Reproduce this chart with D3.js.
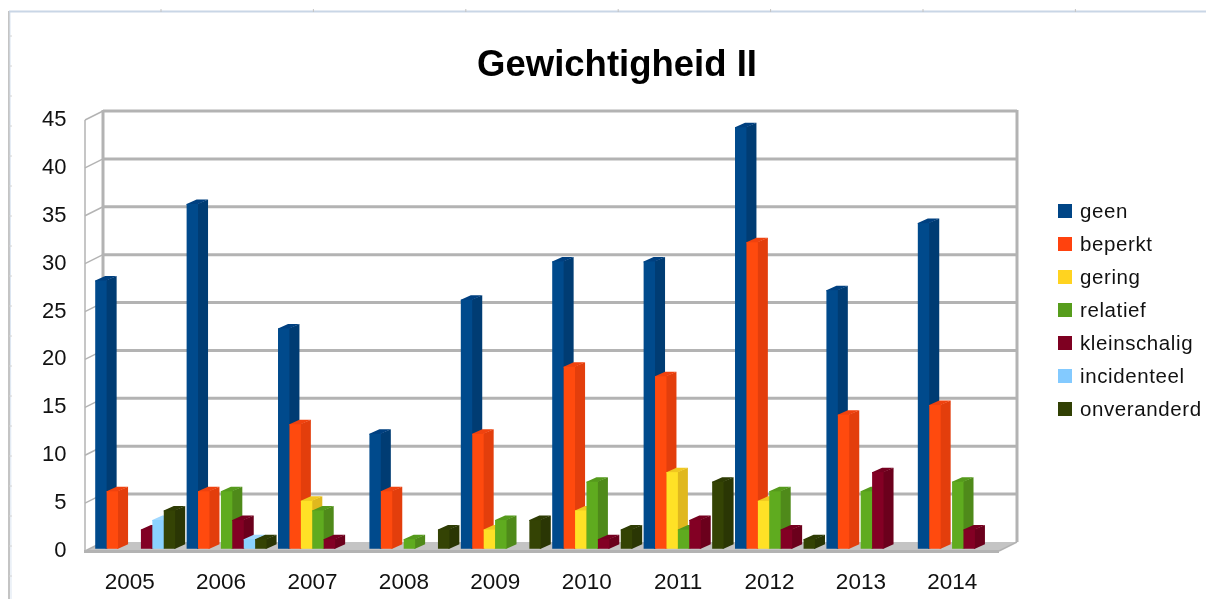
<!DOCTYPE html>
<html>
<head>
<meta charset="utf-8">
<script src="https://cdnjs.cloudflare.com/ajax/libs/d3/7.8.5/d3.min.js"></script>
<style>
html, body { margin: 0; padding: 0; background: #fff; overflow: hidden; }
svg { display: block; font-family: "Liberation Sans", Arial, sans-serif; filter: blur(0.5px); }
</style>
</head>
<body>
<div id="chart"></div>
<script>
// data
const years = ["2005", "2006", "2007", "2008", "2009", "2010", "2011", "2012", "2013", "2014"];
const seriesNames = ["geen", "beperkt", "gering", "relatief", "kleinschalig", "incidenteel", "onveranderd"];
const geen = [28, 36, 23, 12, 26, 30, 30, 44, 27, 34];
const beperkt = [6, 6, 13, 6, 12, 19, 18, 32, 14, 15];
const gering = [0, 0, 5, 0, 2, 4, 8, 5, 0, 0];
const relatief = [0, 6, 4, 1, 3, 7, 2, 6, 6, 7];
const kleinschalig = [2, 3, 1, 0, 0, 1, 3, 2, 8, 2];
const incidenteel = [3, 1, 0, 0, 0, 0, 0, 0, 0, 0];
const onveranderd = [4, 1, 0, 2, 3, 2, 7, 1, 0, 0];
const seriesValues = [geen, beperkt, gering, relatief, kleinschalig, incidenteel, onveranderd];
const yTicks = [0, 5, 10, 15, 20, 25, 30, 35, 40, 45];

const frontColors = ["#004586", "#ff420e", "#ffd320", "#579d1c", "#7e0021", "#83caff", "#314004"];
const barFront = ["#004a8c", "#ff4a0e", "#ffe126", "#5fab1f", "#830024", "#8ad2ff", "#344304"];
const barSide = ["#003c73", "#e33e0c", "#e0b81e", "#4f8a1a", "#6b001c", "#72b0e0", "#2a3604"];
const barTop = ["#004080", "#f0420e", "#f0c820", "#559a1c", "#760020", "#a0d8ff", "#2e3c04"];

const width = 1206, height = 599;
const wallDx = 18, wallDy = -9;
const barDx = 10, barDy = -4.5;
const x0 = 85, x1 = 999, yZero = 551, yTop = 120;
const gridColor = "#b3b3b3";

const x = d3.scaleBand().domain(years).range([x0, x1]).paddingInner(1 / 8).paddingOuter(1 / 16);
const xSeries = d3.scaleBand().domain(seriesNames).range([0, x.bandwidth()]);
const y = d3.scaleLinear().domain([0, 45]).range([yZero, yTop]);

const svg = d3.select("#chart").append("svg").attr("width", width).attr("height", height);

// spreadsheet frame round the chart
const frame = svg.append("g");
frame.append("line").attr("x1", 9).attr("x2", 9).attr("y1", 11).attr("y2", height).attr("stroke", "#c4c4c4").attr("stroke-width", 2);
frame.append("line").attr("x1", 10).attr("x2", 11).attr("y1", 11).attr("y2", height).attr("stroke", "#dbe5f1");
frame.append("line").attr("x1", 9).attr("x2", width).attr("y1", 11.5).attr("y2", 11.5).attr("stroke", "#c9d6e6").attr("stroke-width", 2);
frame.selectAll(".tickTop").data(d3.range(161, width, 152.4)).join("line")
    .attr("x1", d => d).attr("x2", d => d).attr("y1", 9).attr("y2", 12).attr("stroke", "#c4c4c4");
frame.selectAll(".tickLeft").data(d3.range(36, height, 30)).join("line")
    .attr("x1", 9).attr("x2", 12).attr("y1", d => d).attr("y2", d => d).attr("stroke", "#d4d4d4");

// title
svg.append("text").attr("x", 617).attr("y", 76).attr("text-anchor", "middle")
    .attr("font-size", 36.5).attr("font-weight", "bold").attr("fill", "#000").text("Gewichtigheid II");

// floor and walls
const walls = svg.append("g");
walls.append("polygon")
    .attr("points", [[x0, yZero], [x0 + wallDx, yZero + wallDy], [x1 + wallDx, yZero + wallDy], [x1, yZero]].join(" "))
    .attr("fill", "#c4c4c4");
walls.append("line").attr("x1", x0 - 1).attr("x2", x1).attr("y1", yZero + 0.5).attr("y2", yZero + 0.5)
    .attr("stroke", gridColor).attr("stroke-width", 3);
walls.selectAll(".grid").data(yTicks.filter(d => d > 0)).join("line")
    .attr("x1", x0 + wallDx).attr("x2", x1 + wallDx)
    .attr("y1", d => y(d) + wallDy).attr("y2", d => y(d) + wallDy)
    .attr("stroke", gridColor).attr("stroke-width", 3);
walls.selectAll(".slant").data(yTicks).join("line")
    .attr("x1", x0).attr("x2", x0 + wallDx)
    .attr("y1", d => y(d)).attr("y2", d => y(d) + wallDy)
    .attr("stroke", gridColor).attr("stroke-width", 1.5);
walls.append("line").attr("x1", x0).attr("x2", x0).attr("y1", y(45)).attr("y2", yZero)
    .attr("stroke", gridColor).attr("stroke-width", 1.5);
walls.append("line").attr("x1", x0 + wallDx).attr("x2", x0 + wallDx).attr("y1", y(45) + wallDy - 1).attr("y2", yZero + wallDy)
    .attr("stroke", gridColor).attr("stroke-width", 3);
walls.append("line").attr("x1", x1 + wallDx).attr("x2", x1 + wallDx).attr("y1", y(45) + wallDy - 1).attr("y2", yZero + wallDy)
    .attr("stroke", gridColor).attr("stroke-width", 3);
walls.append("line").attr("x1", x1).attr("x2", x1 + wallDx).attr("y1", yZero).attr("y2", yZero + wallDy)
    .attr("stroke", gridColor).attr("stroke-width", 1.5);

// bars, left to right so each one covers the side of the one before
const offX = wallDx / 4, offY = wallDy / 4;
const barW = xSeries.bandwidth();
const bars = [];
years.forEach((year, yi) => {
    seriesNames.forEach((name, si) => {
        bars.push({ year, name, si, value: seriesValues[si][yi] });
    });
});
const barG = svg.append("g").selectAll("g").data(bars.filter(d => d.value > 0)).join("g")
    .attr("transform", d => `translate(${x(d.year) + xSeries(d.name) + offX},${offY})`);
// side and top reach a little under the front so no seam shows
barG.append("polygon")
    .attr("points", d => {
        const t = y(d.value);
        return [[barW - 1, t], [barW + barDx, t + barDy], [barW + barDx, yZero + barDy], [barW, yZero], [barW - 1, yZero]].join(" ");
    })
    .attr("fill", d => barSide[d.si]);
barG.append("polygon")
    .attr("points", d => {
        const t = y(d.value);
        return [[0, t + 1], [0, t], [barDx, t + barDy], [barW + barDx, t + barDy], [barW, t], [barW, t + 1]].join(" ");
    })
    .attr("fill", d => barTop[d.si]);
barG.append("rect")
    .attr("x", 0).attr("width", barW)
    .attr("y", d => y(d.value)).attr("height", d => yZero - y(d.value))
    .attr("fill", d => barFront[d.si]);

// axes
const axisY = svg.append("g").attr("transform", "translate(66.5,-1.5)")
    .call(d3.axisLeft(y).tickValues(yTicks).tickSize(0).tickPadding(0));
axisY.select(".domain").remove();
axisY.selectAll("text").attr("font-size", 22).attr("font-family", "Liberation Sans").attr("fill", "#111");

const axisX = svg.append("g").attr("transform", "translate(-1,573)")
    .call(d3.axisBottom(x).tickSize(0).tickPadding(0));
axisX.select(".domain").remove();
axisX.selectAll("text").attr("font-size", 22.5).attr("font-family", "Liberation Sans").attr("fill", "#111");

// legend
const legendY = d3.scalePoint().domain(seriesNames).range([211, 409]);
const legend = svg.append("g").selectAll("g").data(seriesNames).join("g")
    .attr("transform", d => `translate(1058,${legendY(d)})`);
legend.append("rect").attr("x", 0).attr("y", -7).attr("width", 14).attr("height", 14)
    .attr("fill", (d, i) => frontColors[i]);
legend.append("text").attr("x", 22).attr("y", 7).attr("font-size", 20.5)
    .attr("letter-spacing", 0.6).attr("fill", "#111").text(d => d);
</script>
</body>
</html>
